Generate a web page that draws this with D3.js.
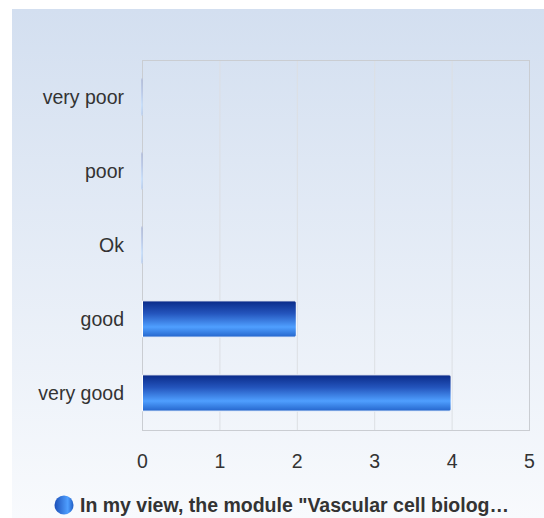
<!DOCTYPE html>
<html>
<head>
<meta charset="utf-8">
<script src="https://cdn.jsdelivr.net/npm/d3@7"></script>
<style>
  body { margin: 0; background: #fff; }
  text { font-family: "Liberation Sans", Arial, sans-serif; fill: #333; }
</style>
</head>
<body>
<div id="container"></div>
<script>
// data
const categories = ['very poor', 'poor', 'Ok', 'good', 'very good'];
const counts = [0, 0, 0, 2, 4];
const xTicks = [0, 1, 2, 3, 4, 5];
const seriesName = 'In my view, the module "Vascular cell biolog\u2026';

const width = 544;
const height = 518;
const plot = { left: 142, top: 60, right: 529, bottom: 430 };

const svg = d3.select('#container').append('svg')
  .attr('width', width)
  .attr('height', height);

const defs = svg.append('defs');

// panel background
const bg = defs.append('linearGradient').attr('id', 'bg')
  .attr('x1', 0).attr('y1', 0).attr('x2', 0).attr('y2', 1);
bg.append('stop').attr('offset', '0%').attr('stop-color', '#d3dff0');
bg.append('stop').attr('offset', '100%').attr('stop-color', '#f8fafd');

// bar fill
const barGrad = defs.append('linearGradient').attr('id', 'bar')
  .attr('x1', 0).attr('y1', 0).attr('x2', 0).attr('y2', 1);
barGrad.append('stop').attr('offset', '0%').attr('stop-color', '#0a2a88');
barGrad.append('stop').attr('offset', '35%').attr('stop-color', '#2455bd');
barGrad.append('stop').attr('offset', '72%').attr('stop-color', '#4f9fff');
barGrad.append('stop').attr('offset', '100%').attr('stop-color', '#2465cc');

// legend marker
const dotGrad = defs.append('linearGradient').attr('id', 'dot')
  .attr('x1', 0).attr('y1', 0).attr('x2', 1).attr('y2', 0);
dotGrad.append('stop').attr('offset', '0%').attr('stop-color', '#1c4fb8');
dotGrad.append('stop').attr('offset', '70%').attr('stop-color', '#4f9fff');
dotGrad.append('stop').attr('offset', '100%').attr('stop-color', '#1e5cc4');

svg.append('rect')
  .attr('x', 12).attr('y', 9)
  .attr('width', width - 12).attr('height', height - 9)
  .attr('fill', 'url(#bg)');

const x = d3.scaleLinear().domain([0, 5]).range([plot.left, plot.right]);
const y = d3.scaleBand().domain(categories).range([plot.top, plot.bottom]).paddingInner(0.51).paddingOuter(0.255);

// grid lines
svg.append('g')
  .selectAll('line')
  .data(xTicks.slice(1, -1))
  .join('line')
  .attr('x1', (d) => x(d) + 0.5).attr('x2', (d) => x(d) + 0.5)
  .attr('y1', plot.top).attr('y2', plot.bottom)
  .attr('stroke', '#dcdfe3');

// plot frame
svg.append('rect')
  .attr('x', plot.left + 0.5).attr('y', plot.top + 0.5)
  .attr('width', plot.right - plot.left).attr('height', plot.bottom - plot.top)
  .attr('fill', 'none')
  .attr('stroke', '#cacdd2');

// bars
svg.append('g')
  .selectAll('path')
  .data(categories.map((c, i) => ({ cat: c, val: counts[i] })))
  .join('path')
  .attr('d', (d) => {
    const x0 = x(0) + 0.5;
    const x1 = x(d.val) - 0.5;
    const y0 = y(d.cat);
    const h = y.bandwidth();
    const r = Math.min(2, Math.max(0, x1 - x0));
    return `M${x0},${y0}H${x1 - r}Q${x1},${y0} ${x1},${y0 + r}V${y0 + h - r}Q${x1},${y0 + h} ${x1 - r},${y0 + h}H${x0}Z`;
  })
  .attr('fill', 'url(#bar)')
  .attr('stroke', '#fff')
  .attr('stroke-opacity', (d) => d.val ? 1 : 0.5)
  .attr('stroke-width', 1);

// y labels
svg.append('g')
  .selectAll('text')
  .data(categories)
  .join('text')
  .attr('x', 124)
  .attr('y', (d) => y(d) + y.bandwidth() / 2)
  .attr('dy', '0.35em')
  .attr('text-anchor', 'end')
  .style('font-size', '19.5px')
  .text((d) => d);

// x tick labels
svg.append('g')
  .selectAll('text')
  .data(xTicks)
  .join('text')
  .attr('x', (d) => x(d) + 0.5)
  .attr('y', 468)
  .attr('text-anchor', 'middle')
  .style('font-size', '19.5px')
  .text((d) => d);

// legend
svg.append('circle')
  .attr('cx', 64).attr('cy', 505).attr('r', 9.5)
  .attr('fill', 'url(#dot)');
svg.append('text')
  .attr('x', 80)
  .attr('y', 512)
  .style('font-size', '19.5px')
  .style('font-weight', 'bold')
  .text(seriesName);
</script>
</body>
</html>
